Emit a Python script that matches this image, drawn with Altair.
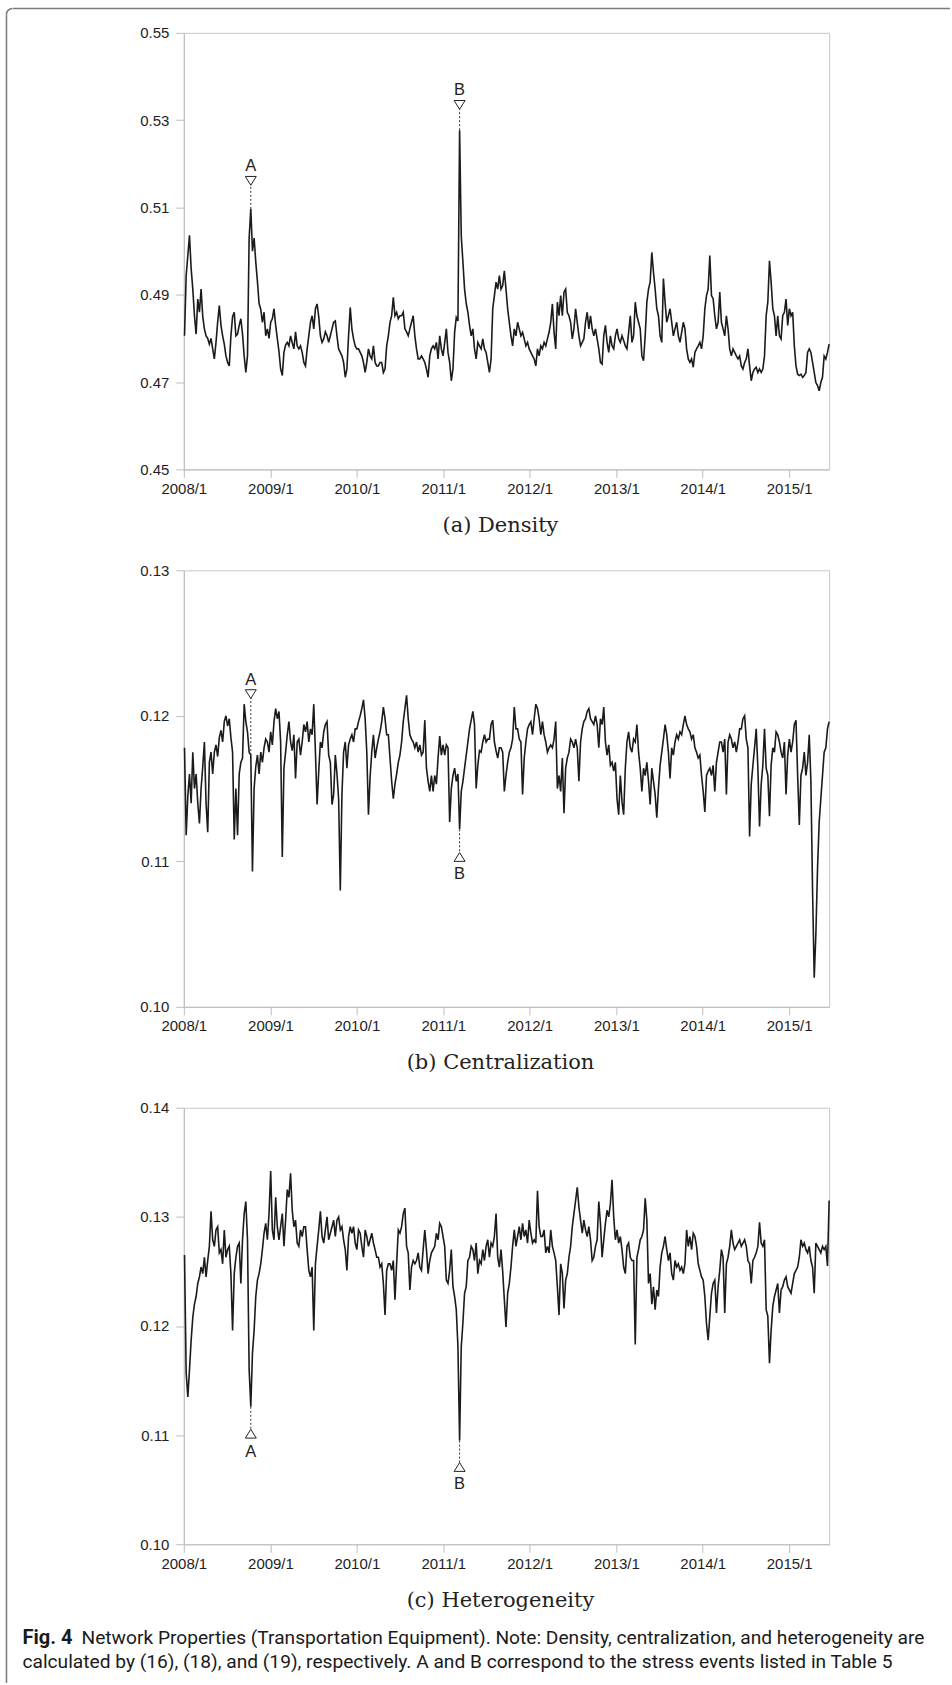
import altair as alt
import pandas as pd

# Weekly readings (Fridays), first week 2008-01-04, last week 2015-06-19.
# Ten weeks per row.
density = [
    0.4806, 0.4944, 0.4990, 0.5036, 0.4960, 0.4913, 0.4852, 0.4810, 0.4890, 0.4860,
    0.4913, 0.4850, 0.4822, 0.4806, 0.4800, 0.4787, 0.4800, 0.4776, 0.4753, 0.4791,
    0.4837, 0.4875, 0.4830, 0.4806, 0.4787, 0.4760, 0.4745, 0.4737, 0.4806, 0.4850,
    0.4860, 0.4806, 0.4810, 0.4830, 0.4845, 0.4810, 0.4760, 0.4722, 0.4760, 0.5030,
    0.5097, 0.5000, 0.5030, 0.4975, 0.4930, 0.4880, 0.4867, 0.4837, 0.4860, 0.4806,
    0.4822, 0.4800, 0.4837, 0.4845, 0.4868, 0.4830, 0.4800, 0.4770, 0.4730, 0.4715,
    0.4768, 0.4785, 0.4791, 0.4783, 0.4806, 0.4790, 0.4776, 0.4815, 0.4783, 0.4776,
    0.4783, 0.4768, 0.4745, 0.4737, 0.4776, 0.4806, 0.4837, 0.4852, 0.4822, 0.4868,
    0.4879, 0.4850, 0.4806, 0.4791, 0.4799, 0.4815, 0.4806, 0.4791, 0.4806, 0.4822,
    0.4837, 0.4840, 0.4806, 0.4776, 0.4768, 0.4760, 0.4745, 0.4711, 0.4730, 0.4806,
    0.4871, 0.4822, 0.4799, 0.4783, 0.4776, 0.4776, 0.4768, 0.4760, 0.4745, 0.4722,
    0.4745, 0.4776, 0.4760, 0.4753, 0.4783, 0.4745, 0.4737, 0.4737, 0.4745, 0.4745,
    0.4722, 0.4730, 0.4783, 0.4806, 0.4837, 0.4852, 0.4894, 0.4852, 0.4860, 0.4845,
    0.4852, 0.4852, 0.4860, 0.4822, 0.4815, 0.4806, 0.4822, 0.4837, 0.4852, 0.4806,
    0.4776, 0.4753, 0.4753, 0.4760, 0.4753, 0.4745, 0.4730, 0.4711, 0.4760, 0.4776,
    0.4783, 0.4776, 0.4791, 0.4753, 0.4806, 0.4776, 0.4760, 0.4790, 0.4822, 0.4768,
    0.4745, 0.4703, 0.4730, 0.4814, 0.4848, 0.4840, 0.5277, 0.5035, 0.4975, 0.4913,
    0.4880, 0.4860, 0.4830, 0.4806, 0.4822, 0.4776, 0.4753, 0.4791, 0.4783, 0.4776,
    0.4799, 0.4776, 0.4768, 0.4745, 0.4722, 0.4753, 0.4868, 0.4898, 0.4929, 0.4913,
    0.4944, 0.4913, 0.4921, 0.4955, 0.4913, 0.4868, 0.4837, 0.4806, 0.4783, 0.4822,
    0.4806, 0.4837, 0.4822, 0.4806, 0.4814, 0.4799, 0.4783, 0.4791, 0.4776, 0.4768,
    0.4760, 0.4753, 0.4737, 0.4776, 0.4760, 0.4783, 0.4776, 0.4791, 0.4783, 0.4799,
    0.4814, 0.4837, 0.4879, 0.4814, 0.4776, 0.4883, 0.4852, 0.4898, 0.4852, 0.4906,
    0.4913, 0.4860, 0.4852, 0.4837, 0.4799, 0.4822, 0.4868, 0.4837, 0.4806, 0.4783,
    0.4791, 0.4799, 0.4837, 0.4860, 0.4822, 0.4852, 0.4822, 0.4806, 0.4822, 0.4799,
    0.4776, 0.4745, 0.4741, 0.4806, 0.4830, 0.4791, 0.4768, 0.4806, 0.4783, 0.4776,
    0.4806, 0.4822, 0.4799, 0.4791, 0.4806, 0.4795, 0.4783, 0.4776, 0.4814, 0.4852,
    0.4791, 0.4806, 0.4883, 0.4852, 0.4837, 0.4822, 0.4760, 0.4749, 0.4806, 0.4883,
    0.4913, 0.4929, 0.4997, 0.4952, 0.4913, 0.4868, 0.4852, 0.4806, 0.4791, 0.4937,
    0.4883, 0.4837, 0.4852, 0.4868, 0.4837, 0.4806, 0.4822, 0.4837, 0.4806, 0.4791,
    0.4814, 0.4837, 0.4822, 0.4776, 0.4753, 0.4745, 0.4753, 0.4734, 0.4768, 0.4776,
    0.4783, 0.4791, 0.4776, 0.4806, 0.4868, 0.4898, 0.4913, 0.4990, 0.4898, 0.4891,
    0.4852, 0.4822, 0.4837, 0.4906, 0.4837, 0.4822, 0.4806, 0.4852, 0.4822, 0.4776,
    0.4760, 0.4776, 0.4768, 0.4760, 0.4753, 0.4760, 0.4737, 0.4730, 0.4745, 0.4753,
    0.4776, 0.4737, 0.4703, 0.4722, 0.4730, 0.4734, 0.4722, 0.4730, 0.4722, 0.4730,
    0.4760, 0.4852, 0.4883, 0.4978, 0.4929, 0.4868, 0.4852, 0.4806, 0.4852, 0.4806,
    0.4799, 0.4852, 0.4860, 0.4890, 0.4830, 0.4868, 0.4852, 0.4860, 0.4783, 0.4737,
    0.4718, 0.4715, 0.4718, 0.4711, 0.4715, 0.4722, 0.4768, 0.4776, 0.4768, 0.4745,
    0.4722, 0.4699, 0.4692, 0.4680, 0.4699, 0.4711, 0.4760, 0.4753, 0.4768, 0.4787,
]

centralization = [
    0.1178, 0.1118, 0.1145, 0.1160, 0.1140, 0.1175, 0.1150, 0.1160, 0.1140, 0.1126,
    0.1150, 0.1165, 0.1182, 0.1140, 0.1120, 0.1168, 0.1175, 0.1160, 0.1175, 0.1180,
    0.1172, 0.1185, 0.1190, 0.1182, 0.1196, 0.1200, 0.1193, 0.1198, 0.1185, 0.1175,
    0.1115, 0.1150, 0.1118, 0.1160, 0.1168, 0.1171, 0.1208, 0.1196, 0.1189, 0.1175,
    0.1173, 0.1093, 0.1150, 0.1165, 0.1173, 0.1160, 0.1175, 0.1168, 0.1178, 0.1184,
    0.1182, 0.1175, 0.1189, 0.1180, 0.1196, 0.1205, 0.1198, 0.1203, 0.1182, 0.1103,
    0.1164, 0.1175, 0.1187, 0.1196, 0.1182, 0.1176, 0.1187, 0.1157, 0.1182, 0.1184,
    0.1173, 0.1182, 0.1194, 0.1189, 0.1196, 0.1182, 0.1191, 0.1187, 0.1208, 0.1175,
    0.1139, 0.1162, 0.1182, 0.1178, 0.1189, 0.1194, 0.1196, 0.1173, 0.1168, 0.1139,
    0.1146, 0.1173, 0.1160, 0.1143, 0.1080, 0.1146, 0.1175, 0.1182, 0.1164, 0.1180,
    0.1184, 0.1187, 0.1182, 0.1191, 0.1191, 0.1196, 0.1200, 0.1205, 0.1211, 0.1198,
    0.1175, 0.1132, 0.1158, 0.1175, 0.1187, 0.1171, 0.1178, 0.1184, 0.1189, 0.1196,
    0.1206, 0.1198, 0.1187, 0.1187, 0.1171, 0.1155, 0.1143, 0.1153, 0.1160, 0.1168,
    0.1173, 0.1182, 0.1196, 0.1205, 0.1214, 0.1198, 0.1187, 0.1184, 0.1182, 0.1178,
    0.1182, 0.1175, 0.1180, 0.1173, 0.1175, 0.1197, 0.1164, 0.1155, 0.1148, 0.1159,
    0.1148, 0.1159, 0.1153, 0.1171, 0.1186, 0.1173, 0.1180, 0.1173, 0.1180, 0.1178,
    0.1127, 0.1150, 0.1159, 0.1164, 0.1155, 0.1160, 0.1122, 0.1148, 0.1155, 0.1164,
    0.1173, 0.1182, 0.1191, 0.1197, 0.1203, 0.1194, 0.1150, 0.1166, 0.1176, 0.1175,
    0.1182, 0.1187, 0.1182, 0.1184, 0.1184, 0.1194, 0.1197, 0.1182, 0.1176, 0.1171,
    0.1178, 0.1178, 0.1175, 0.1148, 0.1159, 0.1168, 0.1175, 0.1178, 0.1184, 0.1206,
    0.1191, 0.1191, 0.1184, 0.1182, 0.1146, 0.1171, 0.1182, 0.1191, 0.1194, 0.1196,
    0.1187, 0.1198, 0.1208, 0.1205, 0.1198, 0.1187, 0.1196, 0.1187, 0.1182, 0.1175,
    0.1178, 0.1180, 0.1178, 0.1184, 0.1196, 0.1150, 0.1159, 0.1148, 0.1171, 0.1133,
    0.1164, 0.1171, 0.1175, 0.1184, 0.1182, 0.1178, 0.1184, 0.1178, 0.1155, 0.1182,
    0.1191, 0.1196, 0.1198, 0.1203, 0.1205, 0.1198, 0.1196, 0.1194, 0.1200, 0.1194,
    0.1178, 0.1198, 0.1194, 0.1206, 0.1182, 0.1173, 0.1180, 0.1166, 0.1168, 0.1162,
    0.1168, 0.1143, 0.1132, 0.1159, 0.1141, 0.1132, 0.1164, 0.1182, 0.1189, 0.1178,
    0.1175, 0.1184, 0.1182, 0.1194, 0.1175, 0.1164, 0.1148, 0.1164, 0.1159, 0.1168,
    0.1155, 0.1139, 0.1164, 0.1155, 0.1146, 0.1130, 0.1150, 0.1166, 0.1175, 0.1184,
    0.1194, 0.1187, 0.1175, 0.1157, 0.1178, 0.1173, 0.1182, 0.1187, 0.1184, 0.1189,
    0.1187, 0.1194, 0.1200, 0.1194, 0.1191, 0.1189, 0.1184, 0.1187, 0.1178, 0.1175,
    0.1171, 0.1173, 0.1159, 0.1148, 0.1134, 0.1159, 0.1162, 0.1164, 0.1159, 0.1166,
    0.1148, 0.1168, 0.1175, 0.1182, 0.1182, 0.1175, 0.1184, 0.1146, 0.1182, 0.1187,
    0.1184, 0.1178, 0.1182, 0.1175, 0.1182, 0.1191, 0.1191, 0.1198, 0.1200, 0.1184,
    0.1178, 0.1117, 0.1153, 0.1166, 0.1178, 0.1191, 0.1164, 0.1124, 0.1153, 0.1166,
    0.1191, 0.1164, 0.1159, 0.1131, 0.1166, 0.1178, 0.1175, 0.1189, 0.1187, 0.1182,
    0.1175, 0.1171, 0.1182, 0.1146, 0.1173, 0.1184, 0.1175, 0.1182, 0.1194, 0.1197,
    0.1159, 0.1125, 0.1159, 0.1164, 0.1175, 0.1159, 0.1168, 0.1187, 0.1155, 0.1080,
    0.1020, 0.1050, 0.1095, 0.1127, 0.1143, 0.1159, 0.1175, 0.1178, 0.1191, 0.1196,
]

heterogeneity = [
    0.1265, 0.1157, 0.1135, 0.1160, 0.1187, 0.1208, 0.1220, 0.1227, 0.1239, 0.1245,
    0.1254, 0.1248, 0.1263, 0.1245, 0.1260, 0.1273, 0.1305, 0.1279, 0.1273, 0.1288,
    0.1291, 0.1267, 0.1270, 0.1257, 0.1288, 0.1263, 0.1270, 0.1273, 0.1248, 0.1196,
    0.1248, 0.1263, 0.1273, 0.1276, 0.1239, 0.1279, 0.1303, 0.1314, 0.1279, 0.1160,
    0.1126, 0.1175, 0.1196, 0.1227, 0.1242, 0.1248, 0.1257, 0.1270, 0.1285, 0.1294,
    0.1279, 0.1303, 0.1342, 0.1288, 0.1279, 0.1318, 0.1291, 0.1279, 0.1291, 0.1303,
    0.1273, 0.1297, 0.1325, 0.1318, 0.1340, 0.1306, 0.1291, 0.1297, 0.1276, 0.1273,
    0.1288, 0.1282, 0.1291, 0.1291, 0.1270, 0.1251, 0.1245, 0.1254, 0.1196, 0.1257,
    0.1273, 0.1288, 0.1305, 0.1282, 0.1276, 0.1288, 0.1300, 0.1279, 0.1285, 0.1291,
    0.1297, 0.1282, 0.1297, 0.1300, 0.1288, 0.1291, 0.1279, 0.1270, 0.1251, 0.1282,
    0.1291, 0.1285, 0.1291, 0.1276, 0.1270, 0.1288, 0.1285, 0.1273, 0.1263, 0.1288,
    0.1282, 0.1273, 0.1279, 0.1285, 0.1276, 0.1270, 0.1263, 0.1263, 0.1254, 0.1257,
    0.1239, 0.1210, 0.1251, 0.1257, 0.1257, 0.1251, 0.1260, 0.1224, 0.1257, 0.1288,
    0.1285, 0.1291, 0.1303, 0.1308, 0.1273, 0.1267, 0.1233, 0.1254, 0.1260, 0.1257,
    0.1260, 0.1267, 0.1254, 0.1251, 0.1270, 0.1288, 0.1270, 0.1248, 0.1260, 0.1267,
    0.1270, 0.1273, 0.1285, 0.1279, 0.1294, 0.1291, 0.1282, 0.1273, 0.1242, 0.1239,
    0.1251, 0.1270, 0.1236, 0.1227, 0.1215, 0.1181, 0.1095, 0.1181, 0.1203, 0.1230,
    0.1236, 0.1260, 0.1263, 0.1273, 0.1270, 0.1260, 0.1276, 0.1248, 0.1260, 0.1257,
    0.1270, 0.1260, 0.1273, 0.1279, 0.1263, 0.1276, 0.1273, 0.1282, 0.1303, 0.1263,
    0.1254, 0.1270, 0.1250, 0.1224, 0.1199, 0.1230, 0.1239, 0.1254, 0.1273, 0.1288,
    0.1273, 0.1282, 0.1291, 0.1279, 0.1294, 0.1282, 0.1288, 0.1276, 0.1297, 0.1285,
    0.1276, 0.1279, 0.1276, 0.1324, 0.1291, 0.1282, 0.1282, 0.1288, 0.1267, 0.1273,
    0.1267, 0.1288, 0.1273, 0.1267, 0.1260, 0.1236, 0.1210, 0.1257, 0.1248, 0.1216,
    0.1242, 0.1248, 0.1263, 0.1273, 0.1291, 0.1303, 0.1315, 0.1327, 0.1309, 0.1297,
    0.1285, 0.1297, 0.1288, 0.1282, 0.1291, 0.1279, 0.1260, 0.1263, 0.1273, 0.1279,
    0.1314, 0.1294, 0.1263, 0.1279, 0.1294, 0.1306, 0.1300, 0.1312, 0.1334, 0.1300,
    0.1279, 0.1288, 0.1276, 0.1282, 0.1270, 0.1254, 0.1248, 0.1273, 0.1276, 0.1263,
    0.1260, 0.1260, 0.1183, 0.1263, 0.1270, 0.1279, 0.1282, 0.1288, 0.1317, 0.1297,
    0.1239, 0.1248, 0.1220, 0.1236, 0.1215, 0.1233, 0.1227, 0.1254, 0.1267, 0.1273,
    0.1282, 0.1270, 0.1260, 0.1267, 0.1248, 0.1242, 0.1260, 0.1254, 0.1257, 0.1251,
    0.1254, 0.1248, 0.1257, 0.1288, 0.1273, 0.1282, 0.1270, 0.1285, 0.1282, 0.1273,
    0.1257, 0.1251, 0.1245, 0.1242, 0.1227, 0.1202, 0.1187, 0.1209, 0.1230, 0.1239,
    0.1242, 0.1212, 0.1236, 0.1251, 0.1270, 0.1263, 0.1212, 0.1257, 0.1263, 0.1273,
    0.1288, 0.1276, 0.1270, 0.1273, 0.1276, 0.1279, 0.1273, 0.1276, 0.1279, 0.1273,
    0.1260, 0.1257, 0.1239, 0.1260, 0.1263, 0.1267, 0.1273, 0.1295, 0.1276, 0.1273,
    0.1279, 0.1215, 0.1209, 0.1166, 0.1196, 0.1218, 0.1227, 0.1233, 0.1239, 0.1212,
    0.1233, 0.1236, 0.1242, 0.1245, 0.1236, 0.1233, 0.1230, 0.1239, 0.1248, 0.1251,
    0.1254, 0.1263, 0.1279, 0.1273, 0.1276, 0.1270, 0.1267, 0.1273, 0.1260, 0.1254,
    0.1230, 0.1276, 0.1273, 0.1270, 0.1267, 0.1273, 0.1270, 0.1273, 0.1255, 0.1315,
]

# Stress events: A = 2008-10-10 (week 40), B = 2011-03-11 (week 166)
event_letters = ["A", "B"]
event_weeks = [40, 166]

# Marker placement per panel: triangle and letter heights, triangle direction
density_tri = [0.5161, 0.5335]
density_txt = [0.5195, 0.5370]
density_dir = ["down", "down"]
central_tri = [0.12149, 0.11030]
central_txt = [0.12245, 0.10915]
central_dir = ["down", "up"]
hetero_tri = [0.11013, 0.10708]
hetero_txt = [0.10845, 0.10556]
hetero_dir = ["up", "up"]

year_ticks = list(range(2008, 2016))

W, H = 646, 437
LINE = "#1b1b1b"
AXIS_GRAY = "#bdbdbd"
FRAME = "#7a7a7a"
TRI_DOWN = "M-1,-0.8L1,-0.8L0,0.8Z"
TRI_UP = "M-1,0.8L1,0.8L0,-0.8Z"

x_scale = alt.Scale(domain=[alt.DateTime(year=2008, month=1, date=1),
                            alt.DateTime(year=2015, month=6, date=19)], nice=False)
x_axis = alt.Axis(values=[alt.DateTime(year=y, month=1, date=1) for y in year_ticks],
                  format="%Y/%-m", labelFlush=False, labelOverlap=False,
                  grid=False, tickSize=8, labelPadding=4)


def week_dates(n):
    return pd.date_range("2008-01-04", periods=n, freq="7D").strftime("%Y-%m-%dT00:00:00")


def panel(values, y_min, y_max, y_ticks, caption, tri, txt, dirs):
    df = pd.DataFrame({"date": week_dates(len(values)), "value": values})
    y_scale = alt.Scale(domain=[y_min, y_max], nice=False, zero=False)
    y_axis = alt.Axis(values=y_ticks, format=".2f", grid=False, tickSize=8, labelPadding=7)

    line = alt.Chart(df).mark_line(color=LINE, strokeWidth=1.6, strokeJoin="miter").encode(
        x=alt.X("date:T", scale=x_scale, axis=x_axis, title=None),
        y=alt.Y("value:Q", scale=y_scale, axis=y_axis, title=None),
    )

    ev = pd.DataFrame({
        "date": [week_dates(len(values))[w] for w in event_weeks],
        "val": [values[w] for w in event_weeks],
        "tri": tri,
        "txt": txt,
        "dir": dirs,
        "letter": event_letters,
    })
    ex = alt.X("date:T", scale=x_scale, axis=x_axis, title=None)
    guide = alt.Chart(ev).mark_rule(color="#333333", strokeWidth=1, strokeDash=[2, 2]).encode(
        x=ex,
        y=alt.Y("val:Q", scale=y_scale, axis=y_axis, title=None),
        y2="tri:Q",
    )
    marker = alt.Chart(ev).mark_point(filled=True, fill="white", stroke="#222222",
                                      strokeWidth=1, size=121, opacity=1).encode(
        x=ex,
        y=alt.Y("tri:Q", scale=y_scale, axis=y_axis, title=None),
        shape=alt.Shape("dir:N", scale=alt.Scale(domain=["down", "up"], range=[TRI_DOWN, TRI_UP]),
                        legend=None),
    )
    letter = alt.Chart(ev).mark_text(font="Liberation Sans", fontSize=16.5, color="#222222",
                                     baseline="middle").encode(
        x=ex,
        y=alt.Y("txt:Q", scale=y_scale, axis=y_axis, title=None),
        text="letter:N",
    )
    # sub-caption centred under the panel (slightly left of the plot centre)
    title = alt.Chart(pd.DataFrame({"t": [caption]})).mark_text(
        align="center", baseline="middle", font="DejaVu Serif", fontSize=21, color="#222222"
    ).encode(text="t:N", x=alt.value(500 - 183), y=alt.value(H + 56.5))
    return [line, guide, marker, letter, title]


one = pd.DataFrame({"k": [0]})
R = 6
frame = [
    alt.Chart(one).mark_rule(color=FRAME, strokeWidth=1.5).encode(
        x=alt.value(-177 + R), x2=alt.value(950 - 183), y=alt.value(-24.5)),
    alt.Chart(one).mark_rule(color=FRAME, strokeWidth=1.5).encode(
        x=alt.value(-177.5), y=alt.value(-24.5 + R), y2=alt.value(1683 - 31)),
    alt.Chart(one).mark_arc(color=FRAME, radius=R + 0.75, radius2=R - 0.75,
                            theta=4.712389, theta2=6.283185).encode(
        x=alt.value(-177.5 + R), y=alt.value(-24.5 + R)),
]

note_font = "Roboto"
note = [
    alt.Chart(one).mark_text(text="Fig. 4", font=note_font, fontWeight="bold", fontSize=20,
                             align="left", baseline="middle", color="#1a1a1a").encode(
        x=alt.value(21.5 - 183), y=alt.value(1637.5 - 1107)),
    alt.Chart(one).mark_text(
        text="Network Properties (Transportation Equipment). Note: Density, centralization, "
             "and heterogeneity are",
        font=note_font, fontSize=19.2, align="left", baseline="middle", color="#1a1a1a").encode(
        x=alt.value(80.6 - 183), y=alt.value(1637.5 - 1107)),
    alt.Chart(one).mark_text(
        text="calculated by (16), (18), and (19), respectively. A and B correspond to the "
             "stress events listed in Table 5",
        font=note_font, fontSize=19.2, align="left", baseline="middle", color="#1a1a1a").encode(
        x=alt.value(21.5 - 183), y=alt.value(1662 - 1107)),
]

pa = alt.layer(*(frame + panel(density, 0.45, 0.55, [0.45, 0.47, 0.49, 0.51, 0.53, 0.55],
                               "(a) Density", density_tri, density_txt, density_dir))
               ).properties(width=W, height=H)
pb = alt.layer(*panel(centralization, 0.10, 0.13, [0.10, 0.11, 0.12, 0.13],
                      "(b) Centralization", central_tri, central_txt, central_dir)
               ).properties(width=W, height=H)
pc = alt.layer(*(panel(heterogeneity, 0.10, 0.14, [0.10, 0.11, 0.12, 0.13, 0.14],
                       "(c) Heterogeneity", hetero_tri, hetero_txt, hetero_dir) + note)
               ).properties(width=W, height=H)

chart = alt.vconcat(pa, pb, pc, spacing=101).properties(
    padding={"left": 5, "top": 6, "right": 0, "bottom": 0},
    bounds="flush",
    background="white",
).configure_view(
    stroke="#c8c8c8", strokeWidth=1
).configure_axis(
    labelFont="Liberation Sans", labelFontSize=15, labelColor="#1e1e1e",
    domainColor=AXIS_GRAY, tickColor=AXIS_GRAY, domainWidth=1, tickWidth=1,
)

chart.save("out.html", embed_options={"renderer": "svg", "actions": False})
